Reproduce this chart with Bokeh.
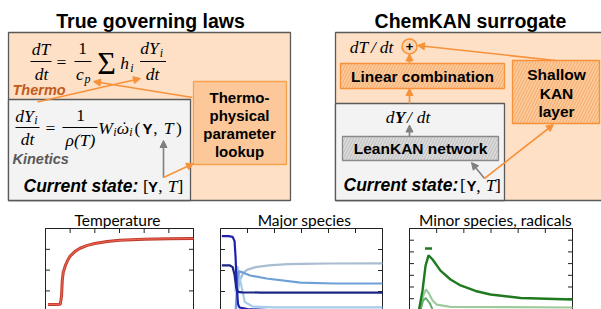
from bokeh.plotting import figure
from bokeh.models import Range1d, Arrow, NormalHead
from bokeh.core.properties import value
from bokeh.embed import file_html
from bokeh.resources import INLINE

# ---------------- data ----------------
# Temperature panel (time in ms, temperature in K)
temp_time = [0.10, 0.40, 0.60, 0.65, 0.68, 0.72, 0.80, 0.90, 1.00, 1.20, 1.40, 1.70, 2.00, 2.50, 3.00, 3.50, 4.00, 5.00, 6.00]
temp_vals = [940, 940, 945, 1100, 1400, 1560, 1680, 1790, 1870, 1960, 2020, 2075, 2110, 2150, 2172, 2185, 2195, 2203, 2208]
temp_yticks = [2400, 2000, 1600, 1200, 800]

# Major species panel (mass fractions)
maj_a_t = [0.05, 0.30, 0.45, 0.52, 0.56, 0.60, 0.65, 0.70, 1.00, 2.00, 6.00]
maj_a_y = [0.232, 0.232, 0.230, 0.220, 0.180, 0.110, 0.070, 0.062, 0.058, 0.055, 0.050]
maj_b_t = [0.05, 0.35, 0.45, 0.52, 0.58, 0.65, 0.80, 1.50, 6.00]
maj_b_y = [0.162, 0.162, 0.158, 0.140, 0.110, 0.099, 0.098, 0.0975, 0.0975]
maj_c_t = [0.55, 0.62, 0.70, 0.85, 1.00, 1.30, 1.80, 2.50, 3.00, 4.00, 6.00]
maj_c_y = [0.040, 0.090, 0.125, 0.145, 0.152, 0.158, 0.162, 0.165, 0.166, 0.1667, 0.167]
maj_d_t = [0.55, 0.62, 0.67, 0.80, 1.10, 1.70, 2.96, 4.20, 6.00]
maj_d_y = [0.040, 0.120, 0.148, 0.146, 0.138, 0.131, 0.121, 0.119, 0.119]
maj_e_t = [0.55, 0.63, 0.75, 0.90, 1.20, 2.00, 6.00]
maj_e_y = [0.100, 0.160, 0.120, 0.075, 0.064, 0.062, 0.062]
maj_yticks = [0.25, 0.20, 0.15, 0.10, 0.05]

# Minor species panel
min_a_t = [0.05, 0.33, 0.48, 0.59, 0.70, 0.85, 1.14, 1.51, 1.88, 2.43, 2.98, 4.09, 6.00]
min_a_y = [0.0040, 0.0048, 0.0067, 0.0088, 0.0097, 0.00935, 0.0084, 0.00764, 0.00713, 0.00666, 0.00636, 0.00606, 0.00593]
min_b_t = [0.30, 0.50, 0.60, 0.70, 0.85, 1.00, 1.50, 6.00]
min_b_y = [0.0045, 0.0062, 0.0068, 0.0065, 0.00585, 0.0055, 0.0053, 0.00525]
min_c_t = [0.40, 0.50, 0.60, 0.75, 0.90, 1.20, 2.00]
min_c_y = [0.0050, 0.00585, 0.00606, 0.0056, 0.0048, 0.0041, 0.0035]
min_peak_t = [0.70]
min_peak_y = [0.0103]
min_yticks = [0.012, 0.011, 0.010, 0.009, 0.008, 0.007, 0.006, 0.005]

time_ticks = [0, 1, 2, 3, 4, 5, 6]

# ---------------- canvas in page pixel coordinates ----------------
# (Bokeh's standalone page template places the plot at the page origin)
X0, Y0 = 0, 0
W, H = 601, 309
p = figure(width=W, height=H, x_range=Range1d(X0, X0 + W), y_range=Range1d(Y0 + H, Y0),
           output_backend="svg", toolbar_location=None, min_border=0,
           x_axis_location=None, y_axis_location=None)
p.grid.visible = False
p.outline_line_color = None

SANS = value("Liberation Sans")
SERIF = value("Liberation Serif")
LATO = value("Lato")

ORANGE = "#F7923A"
GRAYA = "#808080"


def txt(x, y, s, size, font=SANS, style="normal", color="black", align="center", baseline="middle"):
    p.text(x=[x], y=[y], text=[s], text_font=font, text_font_size=f"{size}px",
           text_font_style=style, text_color=color, text_align=align, text_baseline=baseline)


def box(l, r, t, b, fill, line, lw=1.3, hatch=None, hcol=None):
    kw = {}
    if hatch:
        kw = dict(hatch_pattern=hatch, hatch_color=hcol, hatch_scale=6, hatch_weight=1, hatch_alpha=0.9)
    p.quad(left=[l], right=[r], top=[t], bottom=[b], fill_color=fill, line_color=line, line_width=lw, **kw)


def bar(x0, x1, y):
    p.segment(x0=[x0], x1=[x1], y0=[y], y1=[y], line_color="black", line_width=1.1)


def arrow(xs, ys, xe, ye, col):
    p.add_layout(Arrow(end=NormalHead(size=7, fill_color=col, line_color=col, line_width=1),
                       x_start=xs, y_start=ys, x_end=xe, y_end=ye, line_color=col, line_width=1.6))


# ---------------- left panel ----------------
txt(150, 20.5, "True governing laws", 19.5, style="bold")
box(8, 290, 32, 200, "#FDE0C6", "#5A5A5A")
box(8, 190, 99, 200, "#F3F3F3", "#5A5A5A")
box(193, 286, 81, 164, "#FCC89A", "#F7A24E", lw=1.3)
for i, s in enumerate(["Thermo-", "physical", "parameter", "lookup"]):
    txt(239, 97 + 18 * i, s, 15, style="bold")

IT = "italic"
FS = 17.5
# dT/dt = 1/c_p sum h_i dY_i/dt
txt(40.5, 48, "dT", FS, SERIF, IT)
bar(30, 51, 61)
txt(41, 73, "dt", FS, SERIF, IT)
txt(61, 61, "=", FS, SERIF)
txt(82, 48, "1", FS, SERIF)
bar(74, 91, 61)
txt(79.5, 73.5, "c", FS, SERIF, IT)
txt(87, 78, "p", 12, SERIF, IT)
txt(106, 62, "Σ", 32, SERIF)
txt(124, 62.5, "h", FS, SERIF, IT)
txt(131.5, 67, "i", 12, SERIF, IT)
txt(149, 47.5, "dY", FS, SERIF, IT)
txt(161, 52, "i", 12, SERIF, IT)
bar(139.5, 165.5, 61)
txt(152, 73, "dt", FS, SERIF, IT)
txt(12, 89.5, "Thermo", 14.5, SANS, "bold italic", "#C25A1C", align="left")

# dY_i/dt = 1/rho(T) W_i omega_i(Y, T)
txt(24, 115, "dY", FS, SERIF, IT)
txt(35.5, 119.5, "i", 12, SERIF, IT)
bar(15, 39, 127)
txt(27, 138.5, "dt", FS, SERIF, IT)
txt(50, 127, "=", FS, SERIF)
txt(80, 115, "1", FS, SERIF)
bar(62, 97, 127)
txt(80, 139, "ρ(T)", FS, SERIF, IT)
txt(105, 127, "W", FS, SERIF, IT)
txt(114.5, 131.5, "i", 12, SERIF, IT)
txt(122.5, 127.5, "ω", FS, SERIF, IT)
txt(124, 126, "˙", FS, SERIF)
txt(130.5, 131.5, "i", 12, SERIF, IT)
txt(137, 127, "(", FS, SERIF)
txt(147, 127.5, "Y", 15, SANS, "bold")
txt(155, 128, ",", FS, SERIF)
txt(168, 127, "T", FS, SERIF, IT)
txt(178.5, 127, ")", FS, SERIF)
txt(12, 158, "Kinetics", 14.5, SANS, "bold italic", "#595959", align="left")

txt(23, 185, "Current state:", 17.5, SANS, "bold italic", align="left")
txt(145.5, 185, "[", FS, SERIF)
txt(152.5, 185.5, "Y", 15, SANS, "bold")
txt(160, 186, ",", FS, SERIF)
txt(172, 185, "T", FS, SERIF, IT)
txt(180, 185, "]", FS, SERIF)

arrow(163, 177, 163, 140, GRAYA)
arrow(163, 177, 193, 163, ORANGE)
arrow(192, 97, 93, 81, ORANGE)
arrow(37, 101.5, 140, 78, ORANGE)

# ---------------- right panel ----------------
txt(470, 20.5, "ChemKAN surrogate", 19.5, style="bold")
box(335, 640, 32, 200, "#FDE0C6", "#5A5A5A")
box(335, 504, 103, 200, "#F3F3F3", "#5A5A5A")
box(340, 504, 63, 88, "#FCC99B", ORANGE, hatch="/", hcol="#F5A867")
box(512, 599, 60, 123, "#FCC99B", ORANGE, hatch="/", hcol="#F5A867")
box(342, 498, 136, 160, "#DADADA", "#8A8A8A", hatch="/", hcol="#BDBDBD")
txt(422, 76, "Linear combination", 15.5, style="bold")
txt(420, 148, "LeanKAN network", 15.5, style="bold")
for i, s in enumerate(["Shallow", "KAN", "layer"]):
    txt(556, 74 + 18.5 * i, s, 15.5, style="bold")

txt(358.5, 46, "dT", FS, SERIF, IT)
txt(373, 46, "/", FS, SERIF, IT)
txt(386, 46, "dt", FS, SERIF, IT)
p.scatter(x=[409], y=[46], size=15, marker="circle", fill_color="#FCD3AE", line_color=ORANGE, line_width=1.5)
txt(409, 45.5, "+", 13, SANS, "bold")

txt(389.5, 116, "d", FS, SERIF, IT)
txt(399.5, 116, "Y", FS, SERIF, "bold italic")
txt(409, 116, "/", FS, SERIF, IT)
txt(423, 116, "dt", FS, SERIF, IT)

txt(343, 184.5, "Current state:", 17.5, SANS, "bold italic", align="left")
txt(462.5, 184.5, "[", FS, SERIF)
txt(471, 185, "Y", 15, SANS, "bold")
txt(478, 185.5, ",", FS, SERIF)
txt(490, 184.5, "T", FS, SERIF, IT)
txt(497.5, 184.5, "]", FS, SERIF)

arrow(409, 103, 409, 88, ORANGE)
arrow(409, 63, 409, 53.5, ORANGE)
arrow(409, 136, 409, 124.5, GRAYA)
arrow(484, 178, 471, 162, GRAYA)
arrow(484, 178, 553, 124, ORANGE)
arrow(555, 60, 417, 45, ORANGE)


# ---------------- bottom mini charts ----------------
def chart(name, left, right, top, xlim, ytop, ystep, ystep_px, title, title_x, yticks):
    sx = (xlim[1] - xlim[0]) / (right - left)
    p.extra_x_ranges[name] = Range1d(xlim[0] - (left - X0) * sx, xlim[1] + (X0 + W - right) * sx)
    k = ystep / ystep_px

    def val(py):
        return ytop - (py - top) * k
    p.extra_y_ranges[name] = Range1d(val(Y0 + H), val(Y0))
    txt(title_x, 219, title, 15.5, LATO)
    bottom = Y0 + H
    p.segment(x0=[left, right, left], x1=[left, right, right], y0=[top, top, top], y1=[bottom, bottom, top],
              line_color="#222222", line_width=1)
    n = len(time_ticks)
    p.segment(x0=time_ticks, x1=time_ticks, y0=[top] * n, y1=[top + 4.5] * n,
              line_color="#222222", line_width=1, x_range_name=name)
    m = len(yticks)
    p.segment(x0=[left] * m, x1=[left + 4.5] * m, y0=yticks, y1=yticks,
              line_color="#222222", line_width=1, y_range_name=name)
    p.segment(x0=[right - 4.5] * m, x1=[right] * m, y0=yticks, y1=yticks,
              line_color="#222222", line_width=1, y_range_name=name)
    return dict(x_range_name=name, y_range_name=name)


r1 = chart("temp", 45, 193, 228, (0, 6), 2400, 400, 20.8, "Temperature", 117, temp_yticks)
p.line(temp_time, temp_vals, line_color="#B83A2C", line_width=3, **r1)
p.line(temp_time, temp_vals, line_color="#F0604E", line_width=1.2, **r1)

r2 = chart("maj", 220, 382, 228, (0, 6), 0.25, 0.05, 21, "Major species", 304, maj_yticks)
p.line(maj_c_t, maj_c_y, line_color="#A9BCD0", line_width=2.2, **r2)
p.line(maj_e_t, maj_e_y, line_color="#A6CCEB", line_width=2.2, **r2)
p.line(maj_d_t, maj_d_y, line_color="#6E9FD6", line_width=2.2, **r2)
p.line(maj_b_t, maj_b_y, line_color="#1B2682", line_width=2.2, **r2)
p.line(maj_a_t, maj_a_y, line_color="#2020B0", line_width=2.2, **r2)

r3 = chart("min", 409, 572, 228, (0, 6), 0.012, 0.001, 11.7, "Minor species, radicals", 495, min_yticks)
p.line(min_b_t, min_b_y, line_color="#9CCC9C", line_width=2.2, **r3)
p.line(min_c_t, min_c_y, line_color="#62AE6C", line_width=2, **r3)
p.line(min_a_t, min_a_y, line_color="#1F7A1F", line_width=2.4, **r3)
p.scatter(min_peak_t, min_peak_y, marker="dash", size=7, line_color="#1F7A1F", line_width=2.5, **r3)

open("out.html", "w").write(file_html(p, INLINE))
